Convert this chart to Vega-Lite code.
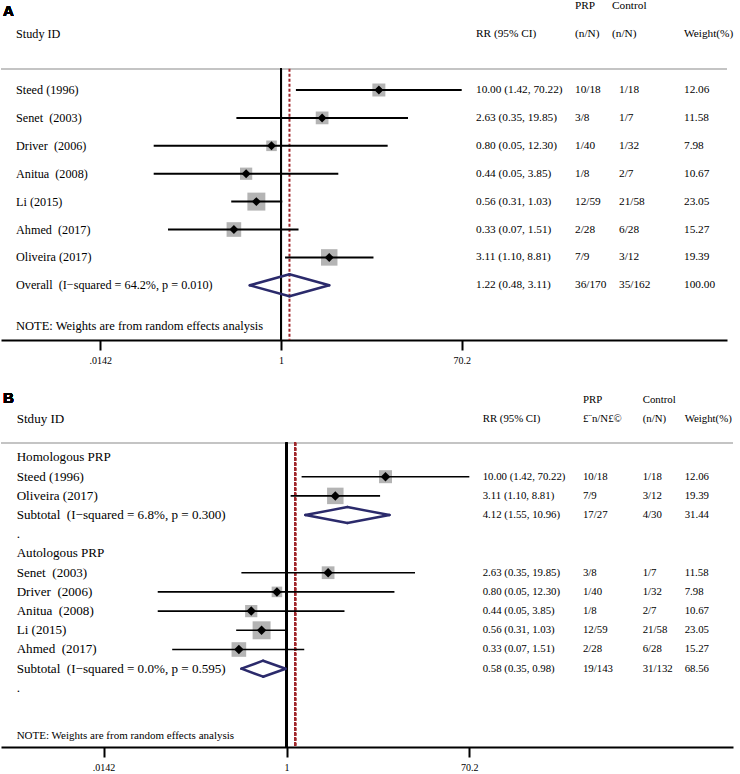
{
  "$schema": "https://vega.github.io/schema/vega-lite/v6.json",
  "padding": 0,
  "background": "white",
  "bounds": "flush",
  "spacing": 41,
  "config": {"view": {"stroke": null}},
  "datasets": {
    "A": [
      {"row": -3, "kind": "hdr", "prp": "PRP", "ctrl": "Control"},
      {"row": -2, "kind": "hdr", "study": "Study ID", "rr": "RR (95% CI)", "prp": "(n/N)", "ctrl": "(n/N)", "wt": "Weight(%)"},
      {"row": 0, "kind": "study", "study": "Steed (1996)", "est": 10.0, "lo": 1.42, "hi": 70.22, "rr": "10.00 (1.42, 70.22)", "prp": "10/18", "ctrl": "1/18", "w": 12.06, "wt": "12.06"},
      {"row": 1, "kind": "study", "study": "Senet\u00a0 (2003)", "est": 2.63, "lo": 0.35, "hi": 19.85, "rr": "2.63 (0.35, 19.85)", "prp": "3/8", "ctrl": "1/7", "w": 11.58, "wt": "11.58"},
      {"row": 2, "kind": "study", "study": "Driver\u00a0 (2006)", "est": 0.8, "lo": 0.05, "hi": 12.3, "rr": "0.80 (0.05, 12.30)", "prp": "1/40", "ctrl": "1/32", "w": 7.98, "wt": "7.98"},
      {"row": 3, "kind": "study", "study": "Anitua\u00a0 (2008)", "est": 0.44, "lo": 0.05, "hi": 3.85, "rr": "0.44 (0.05, 3.85)", "prp": "1/8", "ctrl": "2/7", "w": 10.67, "wt": "10.67"},
      {"row": 4, "kind": "study", "study": "Li (2015)", "est": 0.56, "lo": 0.31, "hi": 1.03, "rr": "0.56 (0.31, 1.03)", "prp": "12/59", "ctrl": "21/58", "w": 23.05, "wt": "23.05"},
      {"row": 5, "kind": "study", "study": "Ahmed\u00a0 (2017)", "est": 0.33, "lo": 0.07, "hi": 1.51, "rr": "0.33 (0.07, 1.51)", "prp": "2/28", "ctrl": "6/28", "w": 15.27, "wt": "15.27"},
      {"row": 6, "kind": "study", "study": "Oliveira (2017)", "est": 3.11, "lo": 1.1, "hi": 8.81, "rr": "3.11 (1.10, 8.81)", "prp": "7/9", "ctrl": "3/12", "w": 19.39, "wt": "19.39"},
      {"row": 7, "kind": "pooled", "study": "Overall\u00a0 (I\u2212squared = 64.2%, p = 0.010)", "est": 1.22, "lo": 0.48, "hi": 3.11, "rr": "1.22 (0.48, 3.11)", "prp": "36/170", "ctrl": "35/162", "w": 100, "wt": "100.00"},
      {"row": 8.45, "kind": "note", "study": "NOTE: Weights are from random effects analysis"}
    ],
    "B": [
      {"row": -3, "kind": "hdr", "prp": "PRP", "ctrl": "Control"},
      {"row": -2, "kind": "hdr", "study": "Stduy ID", "rr": "RR (95% CI)", "prp": "\u00a3\u00a8n/N\u00a3\u00a9", "ctrl": "(n/N)", "wt": "Weight(%)"},
      {"row": 0, "kind": "group", "study": "Homologous PRP"},
      {"row": 1, "kind": "study", "study": "Steed (1996)", "est": 10.0, "lo": 1.42, "hi": 70.22, "rr": "10.00 (1.42, 70.22)", "prp": "10/18", "ctrl": "1/18", "w": 12.06, "wt": "12.06"},
      {"row": 2, "kind": "study", "study": "Oliveira (2017)", "est": 3.11, "lo": 1.1, "hi": 8.81, "rr": "3.11 (1.10, 8.81)", "prp": "7/9", "ctrl": "3/12", "w": 19.39, "wt": "19.39"},
      {"row": 3, "kind": "pooled", "study": "Subtotal\u00a0 (I\u2212squared = 6.8%, p = 0.300)", "est": 4.12, "lo": 1.55, "hi": 10.96, "rr": "4.12 (1.55, 10.96)", "prp": "17/27", "ctrl": "4/30", "w": 31.44, "wt": "31.44"},
      {"row": 4, "kind": "gap", "study": "."},
      {"row": 5, "kind": "group", "study": "Autologous PRP"},
      {"row": 6, "kind": "study", "study": "Senet\u00a0 (2003)", "est": 2.63, "lo": 0.35, "hi": 19.85, "rr": "2.63 (0.35, 19.85)", "prp": "3/8", "ctrl": "1/7", "w": 11.58, "wt": "11.58"},
      {"row": 7, "kind": "study", "study": "Driver\u00a0 (2006)", "est": 0.8, "lo": 0.05, "hi": 12.3, "rr": "0.80 (0.05, 12.30)", "prp": "1/40", "ctrl": "1/32", "w": 7.98, "wt": "7.98"},
      {"row": 8, "kind": "study", "study": "Anitua\u00a0 (2008)", "est": 0.44, "lo": 0.05, "hi": 3.85, "rr": "0.44 (0.05, 3.85)", "prp": "1/8", "ctrl": "2/7", "w": 10.67, "wt": "10.67"},
      {"row": 9, "kind": "study", "study": "Li (2015)", "est": 0.56, "lo": 0.31, "hi": 1.03, "rr": "0.56 (0.31, 1.03)", "prp": "12/59", "ctrl": "21/58", "w": 23.05, "wt": "23.05"},
      {"row": 10, "kind": "study", "study": "Ahmed\u00a0 (2017)", "est": 0.33, "lo": 0.07, "hi": 1.51, "rr": "0.33 (0.07, 1.51)", "prp": "2/28", "ctrl": "6/28", "w": 15.27, "wt": "15.27"},
      {"row": 11, "kind": "pooled", "study": "Subtotal\u00a0 (I\u2212squared = 0.0%, p = 0.595)", "est": 0.58, "lo": 0.35, "hi": 0.98, "rr": "0.58 (0.35, 0.98)", "prp": "19/143", "ctrl": "31/132", "w": 68.56, "wt": "68.56"},
      {"row": 12, "kind": "gap", "study": "."},
      {"row": 14.5, "kind": "note", "study": "NOTE: Weights are from random effects analysis"}
    ]
  },
  "vconcat": [
    {
      "width": 726,
      "height": 339,
      "data": {"name": "A"},
      "layer": [
        {
          "mark": {"type": "rule", "color": "#c4c4c4", "strokeWidth": 1.5},
          "encoding": {
            "y": {"datum": -0.76, "type": "quantitative", "scale": {"domain": [-3.19, 8.96], "reverse": true, "nice": false, "zero": false}, "axis": null}
          }
        },
        {
          "mark": {"type": "rule", "color": "black", "strokeWidth": 2},
          "encoding": {
            "x": {"datum": 1, "type": "quantitative",
              "scale": {"type": "log", "domain": [0.001376, 36100], "nice": false},
              "axis": {"values": [0.0142, 1, 70.2], "labelExpr": "datum.value < 0.1 ? '.0142' : datum.value == 1 ? '1' : '70.2'", "title": null, "grid": false, "domainColor": "black", "domainWidth": 2, "tickColor": "black", "tickWidth": 2, "tickSize": 10, "labelFont": "Liberation Serif", "labelFontSize": 10, "labelColor": "black", "labelPadding": 5, "labelFlush": false, "labelOverlap": false}},
            "y": {"datum": -0.76, "type": "quantitative", "axis": null},
            "y2": {"datum": 8.96}
          }
        },
        {
          "transform": [{"filter": "datum.kind == 'pooled'"}],
          "mark": {"type": "rule", "color": "#a0282d", "strokeWidth": 2, "strokeDash": [3, 2]},
          "encoding": {
            "x": {"field": "est", "type": "quantitative"},
            "y": {"datum": -0.76, "type": "quantitative", "axis": null},
            "y2": {"datum": 8.96}
          }
        },
        {
          "transform": [{"filter": "datum.kind == 'study'"}],
          "mark": {"type": "square", "color": "#b4b4b4", "opacity": 1},
          "encoding": {
            "x": {"field": "est", "type": "quantitative"},
            "y": {"field": "row", "type": "quantitative", "axis": null},
            "size": {"field": "w", "type": "quantitative", "scale": {"domain": [0, 100], "range": [0, 1400]}, "legend": null}
          }
        },
        {
          "transform": [{"filter": "datum.kind == 'study'"}],
          "mark": {"type": "rule", "color": "black", "strokeWidth": 2},
          "encoding": {
            "x": {"field": "lo", "type": "quantitative"},
            "x2": {"field": "hi"},
            "y": {"field": "row", "type": "quantitative", "axis": null}
          }
        },
        {
          "transform": [{"filter": "datum.kind == 'study'"}],
          "mark": {"type": "point", "shape": "diamond", "filled": true, "color": "black", "opacity": 1, "size": 80},
          "encoding": {
            "x": {"field": "est", "type": "quantitative"},
            "y": {"field": "row", "type": "quantitative", "axis": null}
          }
        },
        {
          "transform": [{"filter": "datum.kind == 'pooled'"}],
          "mark": {"type": "rule", "color": "#2b2a6b", "strokeWidth": 2.5, "strokeCap": "round", "y2Offset": -11},
          "encoding": {"x": {"field": "lo", "type": "quantitative"}, "x2": {"field": "est"}, "y": {"field": "row", "type": "quantitative", "axis": null}, "y2": {"field": "row"}}
        },
        {
          "transform": [{"filter": "datum.kind == 'pooled'"}],
          "mark": {"type": "rule", "color": "#2b2a6b", "strokeWidth": 2.5, "strokeCap": "round", "yOffset": -11},
          "encoding": {"x": {"field": "est", "type": "quantitative"}, "x2": {"field": "hi"}, "y": {"field": "row", "type": "quantitative", "axis": null}, "y2": {"field": "row"}}
        },
        {
          "transform": [{"filter": "datum.kind == 'pooled'"}],
          "mark": {"type": "rule", "color": "#2b2a6b", "strokeWidth": 2.5, "strokeCap": "round", "y2Offset": 11},
          "encoding": {"x": {"field": "hi", "type": "quantitative"}, "x2": {"field": "est"}, "y": {"field": "row", "type": "quantitative", "axis": null}, "y2": {"field": "row"}}
        },
        {
          "transform": [{"filter": "datum.kind == 'pooled'"}],
          "mark": {"type": "rule", "color": "#2b2a6b", "strokeWidth": 2.5, "strokeCap": "round", "yOffset": 11},
          "encoding": {"x": {"field": "est", "type": "quantitative"}, "x2": {"field": "lo"}, "y": {"field": "row", "type": "quantitative", "axis": null}, "y2": {"field": "row"}}
        },
        {
          "transform": [{"filter": "isValid(datum.study) && datum.kind != 'note'"}],
          "mark": {"type": "text", "align": "left", "baseline": "middle", "font": "Liberation Serif", "fontSize": 12.2, "color": "black"},
          "encoding": {"x": {"datum": 0.00196, "type": "quantitative"}, "y": {"field": "row", "type": "quantitative", "axis": null}, "text": {"field": "study"}}
        },
        {
          "transform": [{"filter": "datum.kind == 'note'"}],
          "mark": {"type": "text", "align": "left", "baseline": "middle", "font": "Liberation Serif", "fontSize": 12.5, "color": "black"},
          "encoding": {"x": {"datum": 0.00196, "type": "quantitative"}, "y": {"field": "row", "type": "quantitative", "axis": null}, "text": {"field": "study"}}
        },
        {
          "transform": [{"filter": "isValid(datum.rr)"}],
          "mark": {"type": "text", "align": "left", "baseline": "middle", "font": "Liberation Serif", "fontSize": 11.3, "color": "black"},
          "encoding": {"x": {"datum": 98.3, "type": "quantitative"}, "y": {"field": "row", "type": "quantitative", "axis": null}, "text": {"field": "rr"}}
        },
        {
          "transform": [{"filter": "isValid(datum.prp)"}],
          "mark": {"type": "text", "align": "left", "baseline": "middle", "font": "Liberation Serif", "fontSize": 11.3, "color": "black"},
          "encoding": {"x": {"datum": 1010, "type": "quantitative"}, "y": {"field": "row", "type": "quantitative", "axis": null}, "text": {"field": "prp"}}
        },
        {
          "transform": [{"filter": "isValid(datum.ctrl) && datum.kind != 'hdr'"}],
          "mark": {"type": "text", "align": "left", "baseline": "middle", "font": "Liberation Serif", "fontSize": 11.3, "color": "black"},
          "encoding": {"x": {"datum": 2843, "type": "quantitative"}, "y": {"field": "row", "type": "quantitative", "axis": null}, "text": {"field": "ctrl"}}
        },
        {
          "transform": [{"filter": "datum.kind == 'hdr'"}],
          "mark": {"type": "text", "align": "left", "baseline": "middle", "font": "Liberation Serif", "fontSize": 11.3, "color": "black"},
          "encoding": {"x": {"datum": 2412, "type": "quantitative"}, "y": {"field": "row", "type": "quantitative", "axis": null}, "text": {"field": "ctrl"}}
        },
        {
          "transform": [{"filter": "isValid(datum.wt)"}],
          "mark": {"type": "text", "align": "left", "baseline": "middle", "font": "Liberation Serif", "fontSize": 11.3, "color": "black"},
          "encoding": {"x": {"datum": 13120, "type": "quantitative"}, "y": {"field": "row", "type": "quantitative", "axis": null}, "text": {"field": "wt"}}
        },
        {
          "mark": {"type": "text", "align": "left", "baseline": "alphabetic", "font": "Liberation Sans", "fontWeight": "bold", "fontSize": 15, "color": "black", "text": "A"},
          "encoding": {"x": {"datum": 0.00144, "type": "quantitative"}, "y": {"datum": -2.65, "type": "quantitative", "axis": null}}
        }
      ]
    },
    {
      "width": 732,
      "height": 366,
      "data": {"name": "B"},
      "layer": [
        {
          "mark": {"type": "rule", "color": "#c4c4c4", "strokeWidth": 1.5},
          "encoding": {
            "y": {"datum": -0.77, "type": "quantitative", "scale": {"domain": [-3.984, 15.078], "reverse": true, "nice": false, "zero": false}, "axis": null}
          }
        },
        {
          "mark": {"type": "rule", "color": "black", "strokeWidth": 2},
          "encoding": {
            "x": {"datum": 1, "type": "quantitative",
              "scale": {"type": "log", "domain": [0.001306, 32340], "nice": false},
              "axis": {"values": [0.0142, 1, 70.2], "labelExpr": "datum.value < 0.1 ? '.0142' : datum.value == 1 ? '1' : '70.2'", "title": null, "grid": false, "domainColor": "black", "domainWidth": 2, "tickColor": "black", "tickWidth": 2, "tickSize": 10, "labelFont": "Liberation Serif", "labelFontSize": 10, "labelColor": "black", "labelPadding": 5, "labelFlush": false, "labelOverlap": false}},
            "y": {"datum": -0.77, "type": "quantitative", "axis": null},
            "y2": {"datum": 15.078}
          }
        },
        {
          "mark": {"type": "rule", "color": "#a0282d", "strokeWidth": 2, "strokeDash": [3, 2]},
          "encoding": {
            "x": {"datum": 1.22, "type": "quantitative"},
            "y": {"datum": -0.77, "type": "quantitative", "axis": null},
            "y2": {"datum": 15.078}
          }
        },
        {
          "transform": [{"filter": "datum.kind == 'study'"}],
          "mark": {"type": "square", "color": "#b4b4b4", "opacity": 1},
          "encoding": {
            "x": {"field": "est", "type": "quantitative"},
            "y": {"field": "row", "type": "quantitative", "axis": null},
            "size": {"field": "w", "type": "quantitative", "scale": {"domain": [0, 100], "range": [0, 1640]}, "legend": null}
          }
        },
        {
          "transform": [{"filter": "datum.kind == 'study'"}],
          "mark": {"type": "rule", "color": "black", "strokeWidth": 1.6},
          "encoding": {
            "x": {"field": "lo", "type": "quantitative"},
            "x2": {"field": "hi"},
            "y": {"field": "row", "type": "quantitative", "axis": null}
          }
        },
        {
          "transform": [{"filter": "datum.kind == 'study'"}],
          "mark": {"type": "point", "shape": "diamond", "filled": true, "color": "black", "opacity": 1, "size": 90},
          "encoding": {
            "x": {"field": "est", "type": "quantitative"},
            "y": {"field": "row", "type": "quantitative", "axis": null}
          }
        },
        {
          "transform": [{"filter": "datum.kind == 'pooled'"}],
          "mark": {"type": "rule", "color": "#2b2a6b", "strokeWidth": 2.5, "strokeCap": "round", "y2Offset": -8},
          "encoding": {"x": {"field": "lo", "type": "quantitative"}, "x2": {"field": "est"}, "y": {"field": "row", "type": "quantitative", "axis": null}, "y2": {"field": "row"}}
        },
        {
          "transform": [{"filter": "datum.kind == 'pooled'"}],
          "mark": {"type": "rule", "color": "#2b2a6b", "strokeWidth": 2.5, "strokeCap": "round", "yOffset": -8},
          "encoding": {"x": {"field": "est", "type": "quantitative"}, "x2": {"field": "hi"}, "y": {"field": "row", "type": "quantitative", "axis": null}, "y2": {"field": "row"}}
        },
        {
          "transform": [{"filter": "datum.kind == 'pooled'"}],
          "mark": {"type": "rule", "color": "#2b2a6b", "strokeWidth": 2.5, "strokeCap": "round", "y2Offset": 8},
          "encoding": {"x": {"field": "hi", "type": "quantitative"}, "x2": {"field": "est"}, "y": {"field": "row", "type": "quantitative", "axis": null}, "y2": {"field": "row"}}
        },
        {
          "transform": [{"filter": "datum.kind == 'pooled'"}],
          "mark": {"type": "rule", "color": "#2b2a6b", "strokeWidth": 2.5, "strokeCap": "round", "yOffset": 8},
          "encoding": {"x": {"field": "est", "type": "quantitative"}, "x2": {"field": "lo"}, "y": {"field": "row", "type": "quantitative", "axis": null}, "y2": {"field": "row"}}
        },
        {
          "transform": [{"filter": "isValid(datum.study) && datum.kind != 'note'"}],
          "mark": {"type": "text", "align": "left", "baseline": "middle", "font": "Liberation Serif", "fontSize": 13.1, "color": "black"},
          "encoding": {"x": {"datum": 0.00188, "type": "quantitative"}, "y": {"field": "row", "type": "quantitative", "axis": null}, "text": {"field": "study"}}
        },
        {
          "transform": [{"filter": "datum.kind == 'note'"}],
          "mark": {"type": "text", "align": "left", "baseline": "middle", "font": "Liberation Serif", "fontSize": 11, "color": "black"},
          "encoding": {"x": {"datum": 0.00188, "type": "quantitative"}, "y": {"field": "row", "type": "quantitative", "axis": null}, "text": {"field": "study"}}
        },
        {
          "transform": [{"filter": "isValid(datum.rr)"}],
          "mark": {"type": "text", "align": "left", "baseline": "middle", "font": "Liberation Serif", "fontSize": 10.8, "color": "black"},
          "encoding": {"x": {"datum": 95.8, "type": "quantitative"}, "y": {"field": "row", "type": "quantitative", "axis": null}, "text": {"field": "rr"}}
        },
        {
          "transform": [{"filter": "isValid(datum.prp)"}],
          "mark": {"type": "text", "align": "left", "baseline": "middle", "font": "Liberation Serif", "fontSize": 10.8, "color": "black"},
          "encoding": {"x": {"datum": 987, "type": "quantitative"}, "y": {"field": "row", "type": "quantitative", "axis": null}, "text": {"field": "prp"}}
        },
        {
          "transform": [{"filter": "isValid(datum.ctrl)"}],
          "mark": {"type": "text", "align": "left", "baseline": "middle", "font": "Liberation Serif", "fontSize": 10.8, "color": "black"},
          "encoding": {"x": {"datum": 3958, "type": "quantitative"}, "y": {"field": "row", "type": "quantitative", "axis": null}, "text": {"field": "ctrl"}}
        },
        {
          "transform": [{"filter": "isValid(datum.wt)"}],
          "mark": {"type": "text", "align": "left", "baseline": "middle", "font": "Liberation Serif", "fontSize": 10.8, "color": "black"},
          "encoding": {"x": {"datum": 10500, "type": "quantitative"}, "y": {"field": "row", "type": "quantitative", "axis": null}, "text": {"field": "wt"}}
        },
        {
          "mark": {"type": "text", "align": "left", "baseline": "alphabetic", "font": "Liberation Sans", "fontWeight": "bold", "fontSize": 15, "color": "black", "text": "B"},
          "encoding": {"x": {"datum": 0.00137, "type": "quantitative"}, "y": {"datum": -2.85, "type": "quantitative", "axis": null}}
        }
      ]
    }
  ]
}
